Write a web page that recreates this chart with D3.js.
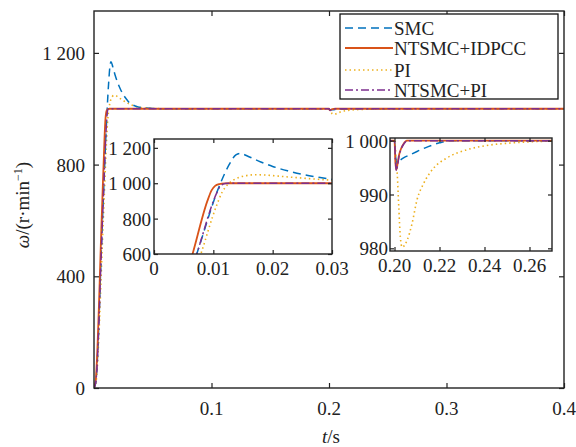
<!DOCTYPE html>
<html><head><meta charset="utf-8">
<script src="https://cdn.jsdelivr.net/npm/d3@7"></script>
</head>
<body style="margin:0">
<div id="wrap" style="position:relative;width:576px;height:447px;overflow:hidden;background:#fff"></div>
<script>
// ---- data ----
const seriesNames = ["SMC","NTSMC+IDPCC","PI","NTSMC+PI"];
const smcT = [0,0.0015,0.0072,0.0112,0.0125,0.0138,0.0145,0.016,0.018,0.02,0.0225,0.025,0.0275,0.03,0.035,0.04,0.05,0.06,0.2,0.2005,0.201,0.202,0.204,0.207,0.21,0.2115,0.215,0.22,0.225,0.4];
const smcV = [0,20,600,1000,1095,1160,1168,1150,1120,1095,1070,1050,1035,1022,1010,1004,1001,1000,1000,997,995.8,996.2,996.8,997.4,998,998.3,998.9,999.6,1000,1000];
const idpccT = [0,0.0015,0.0065,0.009,0.0097,0.0103,0.011,0.012,0.013,0.2,0.2004,0.2008,0.2012,0.202,0.203,0.204,0.2055,0.4];
const idpccV = [0,30,600,900,960,985,995,999,1000,1000,996,994.6,995.3,997.3,998.6,999.4,1000,1000];
const piT = [0,0.0015,0.0079,0.0105,0.0115,0.0125,0.0135,0.0155,0.017,0.019,0.021,0.025,0.03,0.035,0.04,0.05,0.06,0.2,0.2006,0.2012,0.2019,0.2026,0.2034,0.2056,0.2078,0.21,0.213,0.2174,0.2233,0.232,0.241,0.2525,0.2674,0.28,0.4];
const piV = [0,15,600,870,950,995,1020,1043,1048,1046,1040,1029,1017,1009,1004,1001,1000,1000,997.5,994,987.7,982.1,980.2,981.5,984.6,989,992.1,994.9,996.8,998.3,999.1,999.6,999.9,1000,1000];
const ntpiT = [0,0.0015,0.0072,0.0105,0.011,0.0115,0.012,0.013,0.2,0.2004,0.2009,0.2013,0.202,0.203,0.204,0.2058,0.4];
const ntpiV = [0,20,600,940,975,992,998,1000,1000,996.5,994.4,995.2,997.1,998.5,999.3,1000,1000];

const mainXTicks = [0.1,0.2,0.3,0.4];
const mainYTicks = [0,400,800,1200];
const in1XTicks = [0,0.01,0.02,0.03];
const in1YTicks = [600,800,1000,1200];
const in2XTicks = [0.20,0.22,0.24,0.26];
const in2YTicks = [980,990,1000];

// ---- styles ----
const colors = ["#0072BD","#D95319","#EDB120","#7E2F8E"];
const dashes = ["8,5",null,"1.5,3","8,3,2,3"];
const widths = [1.5,1.8,1.6,1.5];
const FONT = "Liberation Serif";

const series = [[smcT,smcV],[idpccT,idpccV],[piT,piV],[ntpiT,ntpiV]]
  .map(([t,v],i)=>({name:seriesNames[i],pts:t.map((x,j)=>[x,v[j]])}));

const wrap = d3.select("#wrap");
const svg = wrap.append("svg").attr("width",576).attr("height",447)
  .style("position","absolute").style("left","0px").style("top","0px").style("display","block");

const fmt = d=>{
  const s = String(d);
  return s.length>3 ? s.slice(0,s.length-3)+" "+s.slice(-3) : s;
};
function styl(sel){
  return sel.style("position","absolute").style("font-family",FONT).style("font-size","19px")
    .style("line-height","1").style("color","#222").style("white-space","nowrap");
}
function label(x,y,txt,tf){
  return styl(wrap.append("div")).style("left",x+"px").style("top",y+"px")
    .style("transform",tf).text(txt);
}

let clipId=0;
function panel(x0,x1,y0,y1,xd,yd,xt,yt,xf,yf,opt){
  const g = svg.append("g");
  const x = d3.scaleLinear().domain(xd).range([x0,x1]);
  const y = d3.scaleLinear().domain(yd).range([y1,y0]);
  g.append("rect").attr("x",x0).attr("y",y0).attr("width",x1-x0).attr("height",y1-y0).attr("fill","#fff");
  const id="clip"+(clipId++);
  g.append("clipPath").attr("id",id).append("rect").attr("x",x0).attr("y",y0).attr("width",x1-x0).attr("height",y1-y0);
  const line = d3.line().x(d=>x(d[0])).y(d=>y(d[1])).curve(d3.curveMonotoneX);
  const lg = g.append("g").attr("clip-path",`url(#${id})`);
  [2,0,1,3].forEach(i=>{
    lg.append("path").attr("d",line(series[i].pts)).attr("fill","none")
      .attr("stroke",colors[i]).attr("stroke-width",widths[i])
      .attr("stroke-dasharray",dashes[i]).attr("stroke-linejoin","round");
  });
  const tl = opt.tick||5;
  const axes = [
    g.append("g").attr("transform",`translate(0,${y1})`).call(d3.axisBottom(x).tickValues(xt).tickSize(-tl).tickFormat("")),
    g.append("g").attr("transform",`translate(0,${y0})`).call(d3.axisTop(x).tickValues(xt).tickSize(-tl).tickFormat("")),
    g.append("g").attr("transform",`translate(${x0},0)`).call(d3.axisLeft(y).tickValues(yt).tickSize(-tl).tickFormat("")),
    g.append("g").attr("transform",`translate(${x1},0)`).call(d3.axisRight(y).tickValues(yt).tickSize(-tl).tickFormat(""))
  ];
  axes.forEach(a=>{
    a.select(".domain").remove();
    a.selectAll("text").remove();
    a.selectAll("line").attr("stroke","#222").attr("stroke-width",1.2);
  });
  g.append("rect").attr("x",x0).attr("y",y0).attr("width",x1-x0).attr("height",y1-y0)
    .attr("fill","none").attr("stroke","#222").attr("stroke-width",1.4);
  xt.forEach(t=>label(x(t),y1+opt.xpad,xf(t),"translate(-50%,0)"));
  yt.forEach(v=>label(x0-opt.ypad,y(v),yf(v),"translate(-100%,-50%)"));
}

panel(94,564,11,388,[0,0.4],[0,1350],mainXTicks,mainYTicks,d=>String(d),fmt,{tick:5,xpad:11,ypad:9});
panel(154,332,139,254,[0,0.03],[600,1250],in1XTicks,in1YTicks,d=>d===0?"0":d3.format(".2f")(d),fmt,{tick:4,xpad:5,ypad:3});
panel(390,552,138,251,[0.198,0.27],[979.5,1000.5],in2XTicks,in2YTicks,d=>d3.format(".2f")(d),fmt,{tick:4,xpad:5,ypad:2});

// legend
const lgd = svg.append("g");
lgd.append("rect").attr("x",340).attr("y",14).attr("width",218).attr("height",85)
  .attr("fill","#fff").attr("stroke","#111").attr("stroke-width",1.3);
const rowY = [28,48,70,90];
seriesNames.forEach((n,i)=>{
  lgd.append("line").attr("x1",345).attr("x2",393).attr("y1",rowY[i]).attr("y2",rowY[i])
    .attr("stroke",colors[i]).attr("stroke-width",widths[i]).attr("stroke-dasharray",dashes[i]);
  label(394,rowY[i],n,"translate(0,-50%)");
});

// axis labels
const yl = styl(wrap.append("div"))
  .style("left","22px").style("top","205px").style("transform","translate(-50%,-50%) rotate(-90deg)");
yl.append("span").style("font-style","italic").text("ω");
yl.append("span").text("/(r·min");
yl.append("span").style("font-size","12px").style("position","relative").style("top","-7px").text("−1");
yl.append("span").text(")");

const xl = styl(wrap.append("div"))
  .style("left","331px").style("top","436px").style("transform","translate(-50%,-50%)");
xl.append("span").style("font-style","italic").text("t");
xl.append("span").text("/s");
</script></body></html>
